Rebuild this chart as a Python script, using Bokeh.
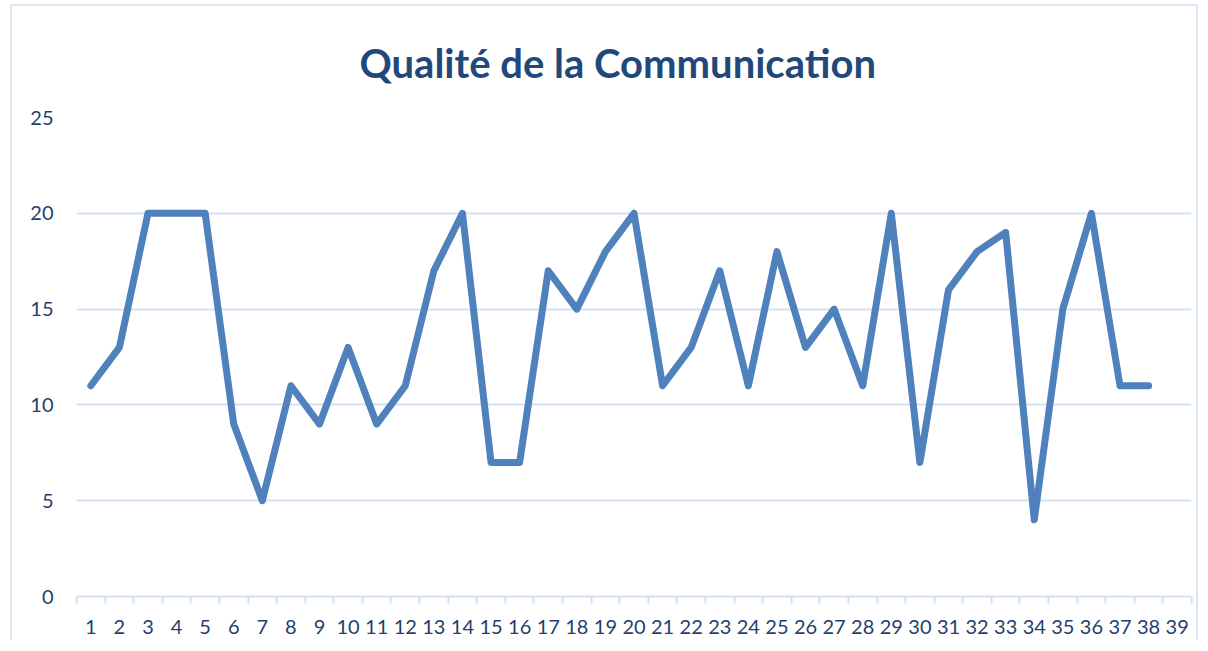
from bokeh.plotting import figure
from bokeh.models import Range1d, FixedTicker, Title
from bokeh.embed import file_html
from bokeh.resources import INLINE

title_text = "Qualité de la Communication"
categories = [str(i) for i in range(1, 40)]
values = [11, 13, 20, 20, 20, 9, 5, 11, 9, 13, 9, 11, 17, 20, 7, 7, 17, 15, 18, 20,
          11, 13, 17, 11, 18, 13, 15, 11, 20, 7, 16, 18, 19, 4, 15, 20, 11, 11]
y_ticks = [0, 5, 10, 15, 20, 25]

xs = list(range(1, len(values) + 1))
cat_pos = list(range(1, len(categories) + 1))

GRID = "#D3E1F3"
LABEL = "#1F3F6E"

p = figure(width=1188, height=636, output_backend="svg", toolbar_location=None,
           x_range=Range1d(0.5, len(categories) + 0.5), y_range=Range1d(0, 25),
           min_border_left=64, min_border_right=9, min_border_top=111, min_border_bottom=46)
p.styles = {"border-top": "2px solid #DCE6F2", "border-left": "2px solid #DCE6F2",
            "border-right": "2px solid #DCE6F2", "box-sizing": "border-box"}
p.margin = (4, 0, 0, 10)
p.outline_line_color = None
p.background_fill_color = "white"
p.border_fill_color = "white"

t = Title(text=title_text, align="left", offset=283, text_font="Lato", standoff=61,
          text_font_style="bold", text_font_size="40px", text_color="#1F497D")
p.add_layout(t, "above")

p.line(xs, values, line_color="#4F81BD", line_width=7, line_join="round", line_cap="round")

# x axis
xt = FixedTicker(ticks=cat_pos, minor_ticks=[c - 0.5 for c in cat_pos] + [cat_pos[-1] + 0.5])
p.xaxis.ticker = xt
p.xaxis.major_label_overrides = {c: lab for c, lab in zip(cat_pos, categories)}
p.xaxis.axis_line_color = GRID
p.xaxis.axis_line_width = 2
p.xaxis.major_tick_line_color = None
p.xaxis.major_tick_out = 0
p.xaxis.major_tick_in = 0
p.xaxis.minor_tick_line_color = GRID
p.xaxis.minor_tick_line_width = 2
p.xaxis.minor_tick_out = 7
p.xaxis.minor_tick_in = 0
p.xaxis.major_label_standoff = 16
p.xaxis.major_label_text_font = "Lato"
p.xaxis.major_label_text_font_size = "20px"
p.xaxis.major_label_text_color = LABEL
p.xgrid.grid_line_color = None

# y axis
p.yaxis.ticker = FixedTicker(ticks=y_ticks)
p.yaxis.axis_line_color = None
p.yaxis.major_tick_line_color = None
p.yaxis.minor_tick_line_color = None
p.yaxis.major_tick_out = 0
p.yaxis.major_tick_in = 0
p.yaxis.major_label_standoff = 23
p.yaxis.major_label_text_font = "Lato"
p.yaxis.major_label_text_font_size = "20px"
p.yaxis.major_label_text_color = LABEL
p.ygrid.grid_line_color = GRID
p.ygrid.grid_line_width = 2

open("out.html", "w").write(file_html(p, INLINE))
